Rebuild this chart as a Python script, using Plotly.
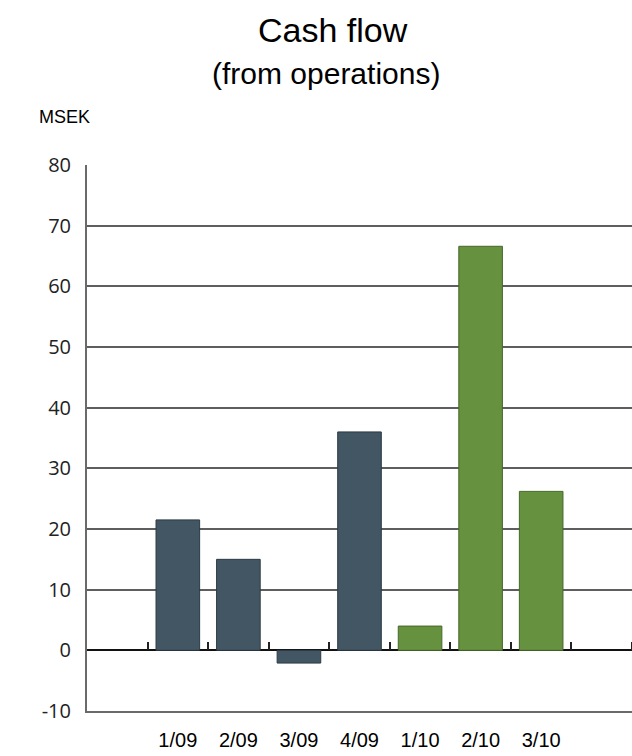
import plotly.graph_objects as go

categories = ["1/09", "2/09", "3/09", "4/09", "1/10", "2/10", "3/10"]
values = [21.5, 15.0, -2.1, 36.0, 4.0, 66.6, 26.2]
bar_colors = ["#435663", "#435663", "#435663", "#435663", "#66913f", "#66913f", "#66913f"]
line_colors = ["#2c3a43", "#2c3a43", "#2c3a43", "#2c3a43", "#46682a", "#46682a", "#46682a"]
y_ticks = [-10, 0, 10, 20, 30, 40, 50, 60, 70, 80]
y_tick_labels = ["-10", "0", "10", "20", "30", "40", "50", "60", "70", "80"]
slot_edges = [i + 0.5 for i in range(9)]

x_pos = list(range(1, len(categories) + 1))

fig = go.Figure()
fig.add_trace(go.Bar(
    x=x_pos, y=values, width=0.72,
    marker=dict(color=bar_colors, line=dict(color=line_colors, width=1)),
    showlegend=False, hoverinfo="skip",
))
# invisible trace for the zero-line tick axis
fig.add_trace(go.Scatter(x=[0.5], y=[None], xaxis="x2", showlegend=False, hoverinfo="skip"))

fig.update_layout(
    width=632, height=756,
    margin=dict(l=87, r=0, t=165, b=45),
    paper_bgcolor="white", plot_bgcolor="white",
    xaxis=dict(
        range=[-0.5, 8.5], tickmode="array", tickvals=x_pos, ticktext=categories,
        showgrid=False, zeroline=False, showline=True, linecolor="#6a6a6a", linewidth=2,
        ticks="", ticklabelstandoff=10,
        tickfont=dict(family="Liberation Sans, Arial", size=20, color="black"),
    ),
    xaxis2=dict(
        overlaying="x", anchor="free", position=10 / 90, side="top",
        range=[-0.5, 8.5], tickmode="array", tickvals=slot_edges,
        ticks="outside", ticklen=8, tickwidth=1.5, tickcolor="#222222",
        showticklabels=False, showgrid=False, zeroline=False, showline=False,
    ),
    yaxis=dict(
        range=[-10, 80], tickmode="array", tickvals=y_ticks, ticktext=y_tick_labels,
        showgrid=True, gridcolor="#5e5e5e", gridwidth=2,
        zeroline=True, zerolinecolor="#111111", zerolinewidth=1.5,
        showline=True, linecolor="#6a6a6a", linewidth=2,
        ticks="", ticklabelstandoff=10,
        tickfont=dict(family="Open Sans, DejaVu Sans", size=20, color="#222222"),
    ),
    annotations=[
        dict(text="Cash flow", xref="paper", yref="paper", x=0.451, y=1.247,
             xanchor="center", yanchor="middle", showarrow=False,
             font=dict(family="Liberation Sans, Arial", size=34, color="black")),
        dict(text="(from operations)", xref="paper", yref="paper", x=0.4385, y=1.1667,
             xanchor="center", yanchor="middle", showarrow=False,
             font=dict(family="Liberation Sans, Arial", size=30, color="black")),
        dict(text="MSEK", xref="paper", yref="paper", x=-0.0917, y=1.088,
             xanchor="left", yanchor="middle", showarrow=False,
             font=dict(family="Liberation Sans, Arial", size=18, color="black")),
    ],
)

fig.write_html("out.html")
